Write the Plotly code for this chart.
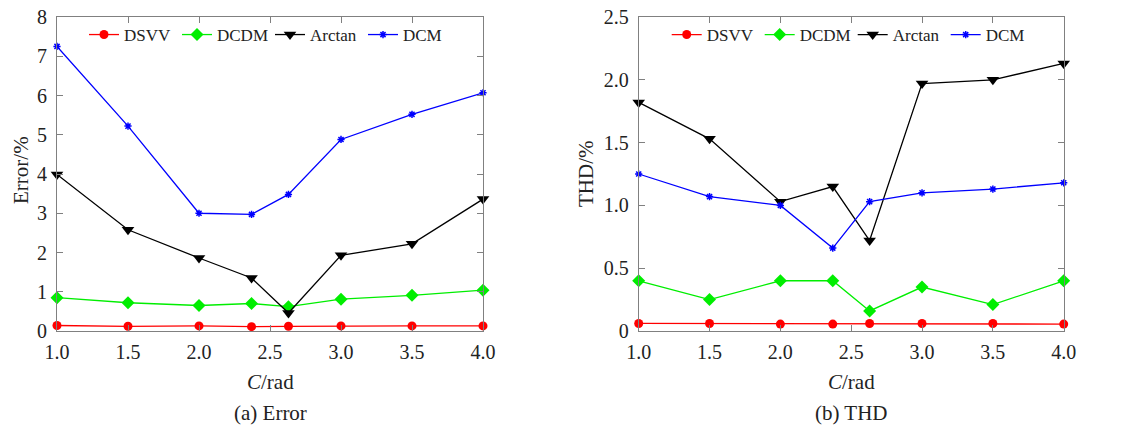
import plotly.graph_objects as go

c_vals = [1.0, 1.5, 2.0, 2.37, 2.63, 3.0, 3.5, 4.0]

err_dsvv = [0.14, 0.12, 0.13, 0.11, 0.12, 0.13, 0.13, 0.13]
err_dcdm = [0.85, 0.72, 0.65, 0.70, 0.62, 0.81, 0.91, 1.04]
err_arctan = [3.99, 2.58, 1.86, 1.35, 0.46, 1.93, 2.22, 3.36]
err_dcm = [7.25, 5.22, 3.00, 2.97, 3.48, 4.88, 5.52, 6.07]

thd_dsvv = [0.06, 0.06, 0.055, 0.055, 0.06, 0.06, 0.06, 0.055]
thd_dcdm = [0.40, 0.25, 0.40, 0.40, 0.16, 0.35, 0.21, 0.40]
thd_arctan = [1.82, 1.53, 1.03, 1.15, 0.72, 1.97, 2.00, 2.13]
thd_dcm = [1.25, 1.07, 1.00, 0.66, 1.03, 1.10, 1.13, 1.18]

series_names = ["DSVV", "DCDM", "Arctan", "DCM"]
x_ticks = [1.0, 1.5, 2.0, 2.5, 3.0, 3.5, 4.0]
x_ticktext = ["1.0", "1.5", "2.0", "2.5", "3.0", "3.5", "4.0"]
err_ticks = [0, 1, 2, 3, 4, 5, 6, 7, 8]
err_ticktext = ["0", "1", "2", "3", "4", "5", "6", "7", "8"]
thd_ticks = [0, 0.5, 1.0, 1.5, 2.0, 2.5]
thd_ticktext = ["0", "0.5", "1.0", "1.5", "2.0", "2.5"]

styles = [
    dict(color="#ff0000", symbol="circle", size=9),
    dict(color="#00ee00", symbol="diamond", size=10),
    dict(color="#000000", symbol="triangle-down", size=11),
    dict(color="#0000ff", symbol="asterisk-open", size=6),
]

FONT = "Liberation Serif"
W, H = 1114, 419  # page body has an 8px margin
fig = go.Figure()

panels = [
    ([err_dsvv, err_dcdm, err_arctan, err_dcm], "x", "y", "legend"),
    ([thd_dsvv, thd_dcdm, thd_arctan, thd_dcm], "x2", "y2", "legend2"),
]
for data, xa, ya, lg in panels:
    for name, vals, st in zip(series_names, data, styles):
        mk = dict(color=st["color"], symbol=st["symbol"], size=st["size"])
        if st["symbol"] == "asterisk-open":
            mk["line"] = dict(color=st["color"], width=1.5)
        fig.add_trace(go.Scatter(
            x=c_vals, y=vals, name=name, mode="lines+markers",
            line=dict(color=st["color"], width=1.3),
            marker=mk, xaxis=xa, yaxis=ya, legend=lg, cliponaxis=False,
        ))

axis_common = dict(
    showline=True, linecolor="#808080", linewidth=1, mirror="ticks",
    ticks="inside", ticklen=6, tickcolor="#808080",
    showgrid=False, zeroline=False, automargin=False,
    ticklabeloverflow="allow",
    tickfont=dict(family=FONT, size=20, color="#222"),
)

def px(x):
    return (x - 8) / W

def py(y):
    return (427 - y) / H

TOP = 17
fig.update_layout(
    width=W, height=H,
    margin=dict(l=0, r=0, t=0, b=0),
    paper_bgcolor="white", plot_bgcolor="white",
    font=dict(family=FONT, size=16, color="#222"),
    xaxis=dict(domain=[px(57), px(483)], range=[1, 4], tickvals=x_ticks,
               ticktext=x_ticktext, anchor="y", ticklabelstandoff=3, **axis_common),
    yaxis=dict(domain=[py(331), py(TOP)], range=[0, 8], tickvals=err_ticks,
               ticktext=err_ticktext, anchor="x", ticklabelstandoff=5, **axis_common),
    xaxis2=dict(domain=[px(638.7), px(1063.7)], range=[1, 4], tickvals=x_ticks,
                ticktext=x_ticktext, anchor="y2", ticklabelstandoff=3, **axis_common),
    yaxis2=dict(domain=[py(331), py(TOP)], range=[0, 2.5], tickvals=thd_ticks,
                ticktext=thd_ticktext, anchor="x2", ticklabelstandoff=5, **axis_common),
    legend=dict(orientation="h", x=px(84), y=py(35), xanchor="left", yanchor="middle",
                bgcolor="rgba(0,0,0,0)", font=dict(family=FONT, size=17, color="#222"),
                entrywidth=48, itemwidth=30, tracegroupgap=0),
    legend2=dict(orientation="h", x=px(666.7), y=py(35), xanchor="left", yanchor="middle",
                 bgcolor="rgba(0,0,0,0)", font=dict(family=FONT, size=17, color="#222"),
                 entrywidth=48, itemwidth=30, tracegroupgap=0),
    showlegend=True,
)

ann = [
    dict(text="Error/%", x=px(21), y=py(170), textangle=-90),
    dict(text="THD/%", x=px(586), y=py(173), textangle=-90),
    dict(text="<i>C</i>/rad", x=px(270), y=py(382)),
    dict(text="<i>C</i>/rad", x=px(851), y=py(382)),
    dict(text="(a) Error", x=px(270), y=py(413)),
    dict(text="(b) THD", x=px(851), y=py(413)),
]
for a in ann:
    fig.add_annotation(xref="paper", yref="paper", showarrow=False,
                       xanchor="center", yanchor="middle",
                       font=dict(family=FONT, size=21, color="#222"), **a)

fig.write_html("out.html")
